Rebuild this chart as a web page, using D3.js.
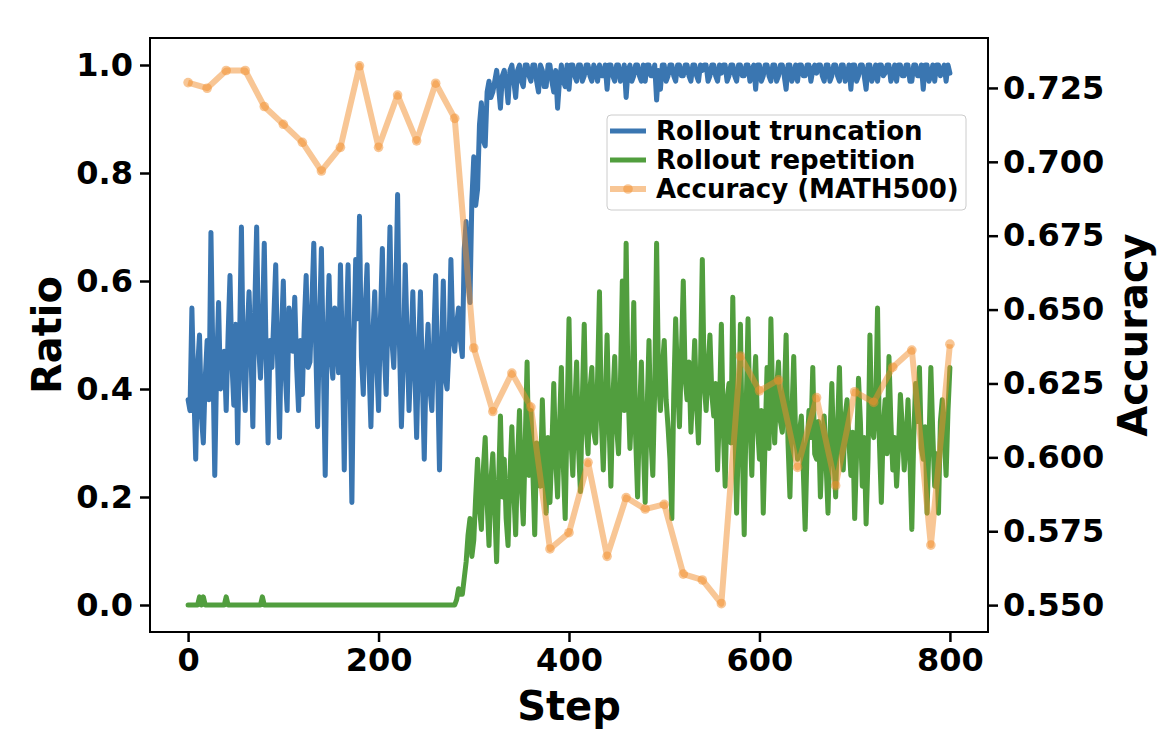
<!DOCTYPE html>
<html>
<head>
<meta charset="utf-8">
<script src="https://cdn.jsdelivr.net/npm/d3@7"></script>
<style>
  body { margin: 0; background: #fff; }
  text { font-family: "DejaVu Sans", sans-serif; font-weight: bold; }
</style>
</head>
<body>
<div id="chart"></div>
<script>
// steps of the two ratio series (every 2nd training step)
const ratioSteps = d3.range(0, 801, 2);

const truncation = [
  0.38,0.36, 0.55,0.40, 0.27,0.44, 0.50,0.35, 0.30,0.42, 0.49,0.38, 0.69,0.46, 0.24,0.44, 0.56,0.40, 0.42,0.47,
  0.36,0.50, 0.61,0.45, 0.37,0.52, 0.30,0.48, 0.70,0.44, 0.36,0.50, 0.58,0.47, 0.33,0.55, 0.70,0.48, 0.42,0.51,
  0.67,0.46, 0.30,0.49, 0.44,0.53, 0.63,0.45, 0.31,0.50, 0.60,0.43, 0.36,0.55, 0.52,0.47, 0.57,0.44, 0.36,0.49,
  0.39,0.52, 0.61,0.44, 0.45,0.56, 0.67,0.48, 0.33,0.52, 0.66,0.45, 0.24,0.49, 0.61,0.46, 0.42,0.55, 0.50,0.43,
  0.63,0.47, 0.25,0.50, 0.63,0.42, 0.19,0.48, 0.64,0.53, 0.72,0.46, 0.39,0.55, 0.63,0.44, 0.33,0.50, 0.58,0.45,
  0.36,0.53, 0.66,0.47, 0.39,0.55, 0.70,0.49, 0.44,0.56, 0.76,0.48, 0.33,0.45, 0.63,0.50, 0.36,0.46, 0.58,0.44,
  0.31,0.47, 0.58,0.42, 0.27,0.45, 0.52,0.40, 0.36,0.49, 0.61,0.43, 0.25,0.46, 0.60,0.42, 0.40,0.48, 0.64,0.50,
  0.47,0.52, 0.55,0.49, 0.46,0.66, 0.71,0.60, 0.56,0.75, 0.83,0.74, 0.77,0.89, 0.93,0.86, 0.85,0.95, 0.97,0.94,
  0.95,0.97, 0.99,0.96, 0.92,0.98, 0.99,0.97, 0.93,0.99, 1.0,0.97, 0.94,0.99, 1.0,0.97, 0.96,1.0, 1.0,0.98,
  0.97,1.0, 1.0,0.97, 0.95,1.0, 0.99,0.96, 0.96,1.0, 1.0,0.97, 0.95,0.99, 0.92,0.97, 1.0,0.97, 0.96,1.0,
  0.955,1.0, 1.0,0.98, 0.97,1.0, 1.0,0.97, 0.98,1.0, 1.0,0.98, 0.97,1.0, 0.99,0.97, 1.0,0.98, 0.98,1.0,
  0.955,1.0, 1.0,0.98, 0.97,1.0, 1.0,0.97, 0.98,1.0, 0.94,0.99, 1.0,0.97, 0.98,1.0, 1.0,0.98, 0.97,1.0,
  0.97,1.0, 1.0,0.98, 0.98,1.0, 0.935,0.99, 0.955,1.0, 1.0,0.97, 0.98,1.0, 1.0,0.98, 0.97,1.0, 1.0,0.98,
  0.98,1.0, 1.0,0.98, 0.97,1.0, 1.0,0.98, 0.97,1.0, 0.99,1.0, 1.0,0.97, 0.98,1.0, 1.0,0.98, 0.97,1.0,
  0.985,1.0, 1.0,0.97, 0.98,1.0, 1.0,0.98, 0.97,1.0, 1.0,0.98, 0.98,1.0, 1.0,0.97, 0.99,1.0, 0.955,1.0,
  1.0,0.97, 0.98,1.0, 1.0,0.98, 0.97,1.0, 1.0,0.97, 0.98,1.0, 1.0,0.98, 0.955,1.0, 1.0,0.97, 0.98,1.0,
  0.97,1.0, 1.0,0.98, 0.98,1.0, 1.0,0.97, 0.99,1.0, 0.985,1.0, 1.0,0.98, 0.97,1.0, 1.0,0.97, 0.98,1.0,
  1.0,0.98, 0.97,1.0, 1.0,0.97, 0.98,1.0, 0.955,1.0, 1.0,0.97, 0.98,1.0, 1.0,0.98, 0.955,1.0, 1.0,0.97,
  0.98,1.0, 0.97,1.0, 1.0,0.98, 0.985,1.0, 1.0,0.97, 0.98,1.0, 0.97,1.0, 1.0,0.98, 0.98,1.0, 1.0,0.97,
  0.97,1.0, 1.0,0.98, 0.98,1.0, 0.955,1.0, 1.0,0.97, 0.98,1.0, 0.97,1.0, 1.0,0.98, 0.99,1.0, 0.97,1.0,
  0.985
];

const repetition = [
  0,0, 0,0, 0,0, 0.015,0, 0.015,0, 0,0, 0,0, 0,0, 0,0, 0,0,
  0.015,0, 0,0, 0,0, 0,0, 0,0, 0,0, 0,0, 0,0, 0,0, 0,0.015,
  0,0, 0,0, 0,0, 0,0, 0,0, 0,0, 0,0, 0,0, 0,0, 0,0,
  0,0, 0,0, 0,0, 0,0, 0,0, 0,0, 0,0, 0,0, 0,0, 0,0,
  0,0, 0,0, 0,0, 0,0, 0,0, 0,0, 0,0, 0,0, 0,0, 0,0,
  0,0, 0,0, 0,0, 0,0, 0,0, 0,0, 0,0, 0,0, 0,0, 0,0,
  0,0, 0,0, 0,0, 0,0, 0,0, 0,0, 0,0, 0,0, 0,0, 0,0,
  0.0,0.01, 0.03,0.02, 0.02,0.05, 0.08,0.13, 0.16,0.09, 0.12,0.20, 0.27,0.18, 0.14,0.25, 0.31,0.19, 0.11,0.23,
  0.28,0.18, 0.08,0.22, 0.35,0.20, 0.27,0.16, 0.11,0.24, 0.33,0.21, 0.13,0.27, 0.36,0.22, 0.15,0.30, 0.45,0.24,
  0.36,0.25, 0.13,0.30, 0.27,0.22, 0.38,0.26, 0.17,0.31, 0.19,0.29, 0.41,0.27, 0.20,0.33, 0.44,0.26, 0.16,0.35,
  0.53,0.31, 0.24,0.36, 0.45,0.29, 0.21,0.38, 0.52,0.33, 0.28,0.40, 0.44,0.32, 0.30,0.42, 0.58,0.34, 0.25,0.37,
  0.50,0.34, 0.22,0.38, 0.46,0.33, 0.28,0.41, 0.60,0.36, 0.67,0.40, 0.29,0.37, 0.56,0.31, 0.20,0.35, 0.45,0.30,
  0.19,0.36, 0.49,0.31, 0.24,0.40, 0.67,0.42, 0.36,0.44, 0.49,0.38, 0.33,0.27, 0.16,0.39, 0.53,0.41, 0.33,0.46,
  0.60,0.42, 0.38,0.45, 0.32,0.40, 0.49,0.37, 0.30,0.43, 0.64,0.41, 0.36,0.44, 0.50,0.39, 0.35,0.41, 0.25,0.36,
  0.52,0.33, 0.22,0.38, 0.41,0.30, 0.57,0.35, 0.17,0.32, 0.52,0.29, 0.13,0.36, 0.53,0.34, 0.24,0.39, 0.46,0.33,
  0.27,0.36, 0.17,0.31, 0.44,0.29, 0.53,0.37, 0.30,0.40, 0.45,0.34, 0.32,0.38, 0.50,0.30, 0.20,0.35, 0.46,0.31,
  0.27,0.32, 0.35,0.25, 0.14,0.29, 0.36,0.31, 0.44,0.28, 0.27,0.34, 0.20,0.30, 0.35,0.26, 0.17,0.31, 0.41,0.28,
  0.20,0.33, 0.44,0.29, 0.25,0.35, 0.38,0.30, 0.24,0.32, 0.16,0.28, 0.42,0.34, 0.22,0.31, 0.15,0.27, 0.50,0.33,
  0.31,0.36, 0.55,0.30, 0.19,0.33, 0.38,0.28, 0.46,0.34, 0.25,0.31, 0.22,0.29, 0.39,0.33, 0.25,0.30, 0.38,0.27,
  0.14,0.31, 0.41,0.34, 0.44,0.29, 0.27,0.33, 0.17,0.30, 0.44,0.32, 0.22,0.28, 0.17,0.34, 0.38,0.31, 0.24,0.36,
  0.44
];

// MATH500 accuracy, evaluated every 20 steps
const accSteps = d3.range(0, 801, 20);
const accuracy = [
  0.7268, 0.7249, 0.7309, 0.7309, 0.7187, 0.7127, 0.7066, 0.6969, 0.7049, 0.7325,
  0.7049, 0.7226, 0.7071, 0.7266, 0.7147, 0.6370, 0.6155, 0.6285, 0.6170, 0.5690,
  0.5745, 0.5983, 0.5665, 0.5864, 0.5825, 0.5841, 0.5605, 0.5585, 0.5505, 0.6343,
  0.6225, 0.6262, 0.5966, 0.6202, 0.5904, 0.6222, 0.6186, 0.6305, 0.6363, 0.5703,
  0.6383
];

const stepTicks = [0, 200, 400, 600, 800];
const ratioTicks = [0.0, 0.2, 0.4, 0.6, 0.8, 1.0];
const accTicks = [0.55, 0.575, 0.6, 0.625, 0.65, 0.675, 0.7, 0.725];

const legendItems = [
  { label: 'Rollout truncation', key: 'trunc' },
  { label: 'Rollout repetition', key: 'rep' },
  { label: 'Accuracy (MATH500)', key: 'acc' }
];

const width = 1164;
const height = 742;
const plot = { left: 150, right: 988, top: 38, bottom: 632 };

const blue = '#3a76b1';
const green = '#519e3e';
const orange = '#f28e2b';
const lineWidth = 5;

const svg = d3.select('#chart')
  .append('svg')
  .attr('width', width)
  .attr('height', height)
  .style('background', '#fff');

const x = d3.scaleLinear().domain([-40, 840]).range([plot.left, plot.right]);
const y = d3.scaleLinear().domain([-0.05, 1.05]).range([plot.bottom, plot.top]);
const yAcc = d3.scaleLinear().domain([0.5409, 0.7419]).range([plot.bottom, plot.top]);

svg.append('defs').append('clipPath').attr('id', 'plot-clip')
  .append('rect')
  .attr('x', plot.left).attr('y', plot.top)
  .attr('width', plot.right - plot.left)
  .attr('height', plot.bottom - plot.top);

const g = svg.append('g').attr('clip-path', 'url(#plot-clip)');

const ratioLine = d3.line()
  .x((d, i) => x(ratioSteps[i]))
  .y(d => y(d));

g.append('path')
  .datum(truncation)
  .attr('fill', 'none')
  .attr('stroke', blue)
  .attr('stroke-width', lineWidth)
  .attr('stroke-linejoin', 'round')
  .attr('stroke-linecap', 'round')
  .attr('d', ratioLine);

g.append('path')
  .datum(repetition)
  .attr('fill', 'none')
  .attr('stroke', green)
  .attr('stroke-width', lineWidth)
  .attr('stroke-linejoin', 'round')
  .attr('stroke-linecap', 'round')
  .attr('d', ratioLine);

// accuracy on the twin axis
const accLine = d3.line()
  .x((d, i) => x(accSteps[i]))
  .y(d => yAcc(d));

g.append('path')
  .datum(accuracy)
  .attr('fill', 'none')
  .attr('stroke', orange)
  .attr('stroke-opacity', 0.5)
  .attr('stroke-width', 6)
  .attr('stroke-linejoin', 'round')
  .attr('d', accLine);

g.append('g')
  .selectAll('circle')
  .data(accuracy)
  .enter().append('circle')
  .attr('cx', (d, i) => x(accSteps[i]))
  .attr('cy', d => yAcc(d))
  .attr('r', 4.8)
  .attr('fill', orange)
  .attr('fill-opacity', 0.5);

// axes
const fontSize = 32;

const xAxis = svg.append('g')
  .attr('transform', `translate(0,${plot.bottom})`)
  .call(d3.axisBottom(x).tickValues(stepTicks).tickFormat(d3.format('d')).tickSize(10).tickPadding(6));

const yAxis = svg.append('g')
  .attr('transform', `translate(${plot.left},0)`)
  .call(d3.axisLeft(y).tickValues(ratioTicks).tickFormat(d3.format('.1f')).tickSize(10).tickPadding(7));

const yAxisR = svg.append('g')
  .attr('transform', `translate(${plot.right},0)`)
  .call(d3.axisRight(yAcc).tickValues(accTicks).tickFormat(d3.format('.3f')).tickSize(10).tickPadding(5));

[xAxis, yAxis, yAxisR].forEach(a => {
  a.select('.domain').remove();
  a.selectAll('.tick line').attr('stroke', '#000').attr('stroke-width', 2.5);
  a.selectAll('.tick text')
    .attr('fill', '#000')
    .attr('font-size', fontSize)
    .attr('font-family', '"DejaVu Sans", sans-serif')
    .attr('font-weight', 'bold');
});

svg.append('rect')
  .attr('x', plot.left).attr('y', plot.top)
  .attr('width', plot.right - plot.left)
  .attr('height', plot.bottom - plot.top)
  .attr('fill', 'none')
  .attr('stroke', '#000')
  .attr('stroke-width', 2);

// axis titles
svg.append('text')
  .attr('x', (plot.left + plot.right) / 2)
  .attr('y', 720)
  .attr('text-anchor', 'middle')
  .attr('font-size', 40)
  .text('Step');

svg.append('text')
  .attr('transform', `translate(61,${(plot.top + plot.bottom) / 2}) rotate(-90)`)
  .attr('text-anchor', 'middle')
  .attr('font-size', 40)
  .text('Ratio');

svg.append('text')
  .attr('transform', `translate(1147,${(plot.top + plot.bottom) / 2}) rotate(-90)`)
  .attr('text-anchor', 'middle')
  .attr('font-size', 40)
  .text('Accuracy');

// legend
const legend = svg.append('g').attr('transform', 'translate(607,115)');

legend.append('rect')
  .attr('width', 359)
  .attr('height', 95)
  .attr('rx', 4)
  .attr('fill', '#fff')
  .attr('fill-opacity', 0.8)
  .attr('stroke', '#ccc')
  .attr('stroke-width', 1);

const rows = legend.selectAll('g.row')
  .data(legendItems)
  .enter().append('g')
  .attr('class', 'row')
  .attr('transform', (d, i) => `translate(0,${16 + i * 29})`);

rows.append('line')
  .attr('x1', 3).attr('x2', 39)
  .attr('y1', 0).attr('y2', 0)
  .attr('stroke', d => d.key === 'trunc' ? blue : d.key === 'rep' ? green : orange)
  .attr('stroke-opacity', d => d.key === 'acc' ? 0.5 : 1)
  .attr('stroke-width', d => d.key === 'acc' ? 6 : lineWidth);

rows.filter(d => d.key === 'acc')
  .append('circle')
  .attr('cx', 21).attr('cy', 0).attr('r', 4.8)
  .attr('fill', orange).attr('fill-opacity', 0.5);

rows.append('text')
  .attr('x', 49)
  .attr('y', 0)
  .attr('dy', '0.36em')
  .attr('font-size', 26)
  .attr('fill', '#000')
  .text(d => d.label);
</script>
</body>
</html>
